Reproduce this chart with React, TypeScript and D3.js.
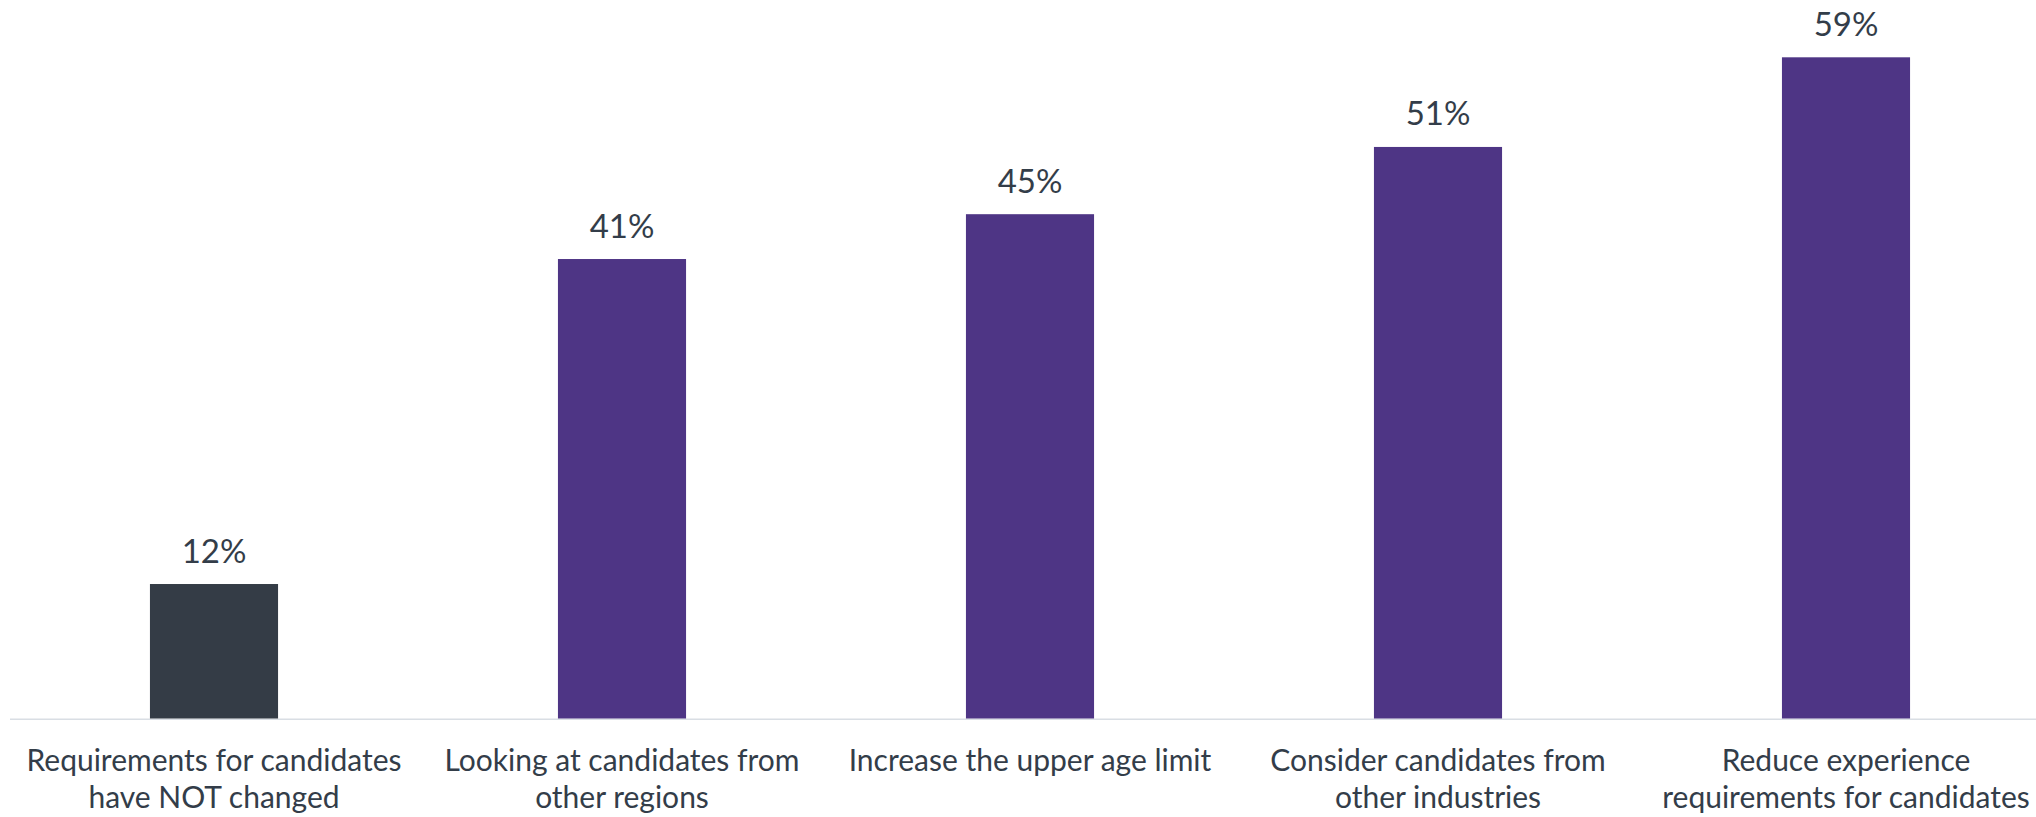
import React from "react";
import * as d3 from "d3";

const categories: string[][] = [
  ["Requirements for candidates", "have NOT changed"],
  ["Looking at candidates from", "other regions"],
  ["Increase the upper age limit"],
  ["Consider candidates from", "other industries"],
  ["Reduce experience", "requirements for candidates"],
];
const values = [12, 41, 45, 51, 59];
const barColors = ["#343C46", "#4E3585", "#4E3585", "#4E3585", "#4E3585"];

const W = 2036;
const H = 817;
const FONT = "Lato, 'Open Sans', sans-serif";
const TEXT = "#333D49";

export default function App() {
  const x = d3
    .scaleBand<number>()
    .domain(d3.range(values.length))
    .range([10, 2050])
    .paddingInner(0.686)
    .paddingOuter(0.343);
  const y = d3.scaleLinear().domain([0, 59]).range([718.5, 57.3]);

  return (
    <svg
      width={W}
      height={H}
      style={{ position: "absolute", left: 0, top: 0, background: "#fff" }}
      fontFamily={FONT}
    >
      <line x1={10} x2={W} y1={719.3} y2={719.3} stroke="#D9DEE4" strokeWidth={1.5} />
      {values.map((v, i) => {
        const bx = x(i)!;
        const bw = x.bandwidth();
        const cx = bx + bw / 2;
        return (
          <g key={i}>
            <rect x={bx} y={y(v)} width={bw} height={y(0) - y(v)} fill={barColors[i]} />
            <text x={cx} y={y(v) - 21.5} textAnchor="middle" fontSize={33} fill={TEXT}>
              {v}%
            </text>
            <text textAnchor="middle" fontSize={30} fill={TEXT}>
              {categories[i].map((line, j) => (
                <tspan key={j} x={cx} y={771 + j * 37}>
                  {line}
                </tspan>
              ))}
            </text>
          </g>
        );
      })}
    </svg>
  );
}
